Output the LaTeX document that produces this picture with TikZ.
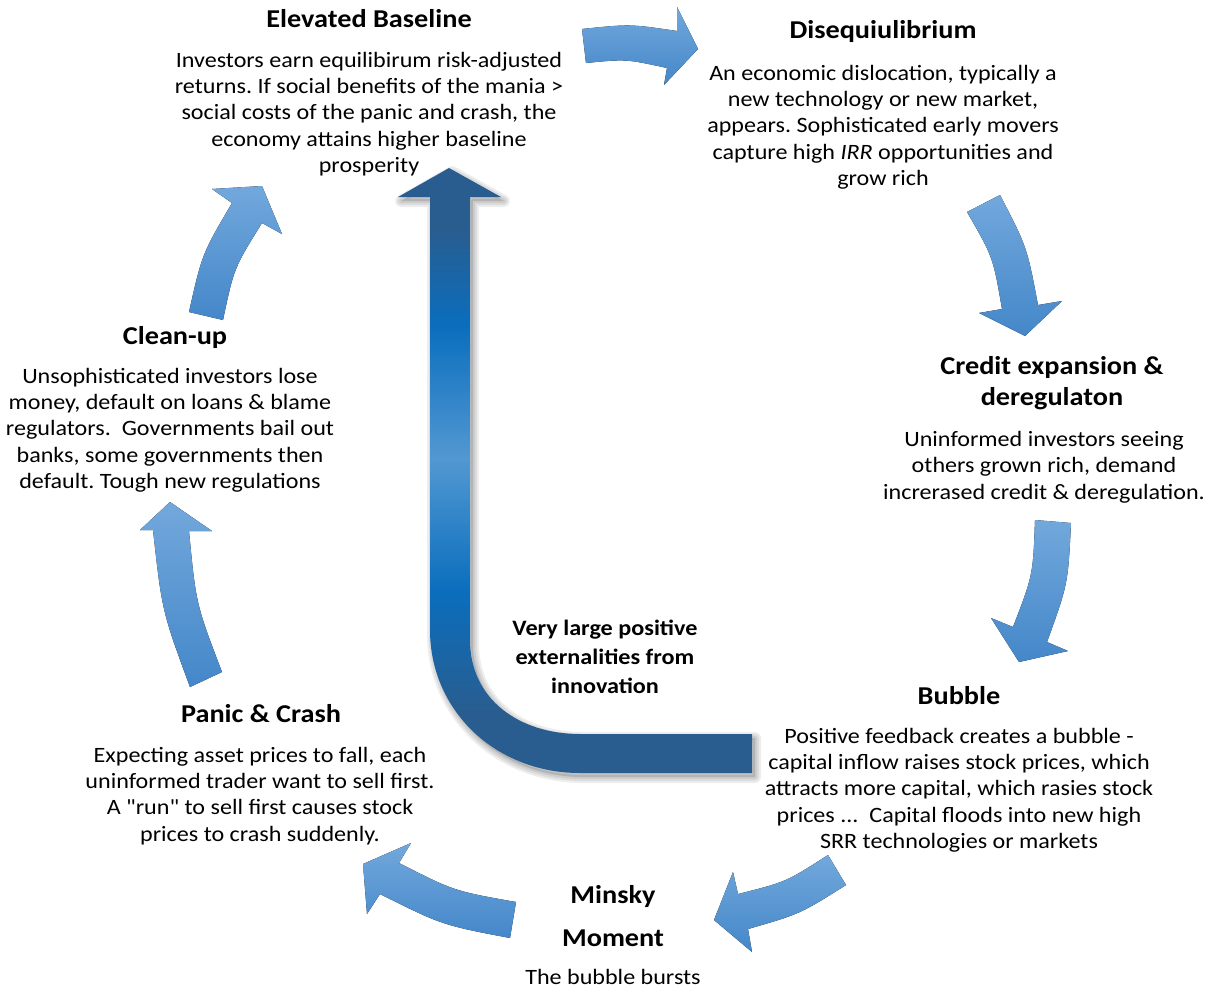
\documentclass[tikz,border=0pt]{standalone}
\usepackage{fontspec}
\setmainfont[FakeStretch=1.1]{Carlito}
\newfontfamily\plainquote[FakeStretch=1.1]{Carlito}
\definecolor{arrowtop}{HTML}{72A8DC}
\definecolor{arrowbot}{HTML}{4487C9}
\definecolor{innovdark}{HTML}{295D8F}
\definecolor{innovmid}{HTML}{0A6EBD}
\definecolor{innovlight}{HTML}{5298D2}
\pgfdeclareverticalshading{innovshade}{100bp}{color(0bp)=(innovdark); color(25bp)=(innovdark); color(30bp)=(innovdark); color(40bp)=(innovmid); color(51bp)=(innovlight); color(62bp)=(innovmid); color(70bp)=(innovdark); color(100bp)=(innovdark)}
\newcommand{\straightquote}{{\plainquote"}}
\tikzset{
  head/.style={font=\bfseries\fontsize{25.7}{31}\selectfont, align=center, inner sep=0pt},
  body/.style={font=\fontsize{21.9}{26.3}\selectfont, align=center, inner sep=0pt},
  cyclearrow/.style={top color=arrowtop, bottom color=arrowbot, draw=none},
  innovpath/.style={insert path={(449,168) -- (501,197) -- (470,197) -- (470,640)
      .. controls (470,700) and (520,734) .. (580,734) -- (752,734) -- (752,773) -- (580,773)
      .. controls (495,773) and (430,710) .. (430,630) -- (430,197) -- (398,197) -- cycle}}
}
\frenchspacing
\begin{document}
\begin{tikzpicture}[x=1pt, y=-1pt]
  \useasboundingbox (0,0) rectangle (1219,988);

  % big L arrow with soft shadow
  \foreach \w in {12,8,4} {
    \draw[line width=\w pt, black, opacity=0.07, line join=round, shift={(3,4)}, innovpath];
  }
  \fill[black, opacity=0.12, shift={(3,4)}, innovpath];
  \shade[shading=innovshade, innovpath];

  % cycle arrows
  \fill[cyclearrow] (582,29) .. controls (630,24) .. (677,31) -- (677,7) -- (698,49) -- (664,85)
    -- (667,68) .. controls (626,59) .. (586,63) -- cycle;
  \fill[cyclearrow] (967,212) -- (1000,195) .. controls (1027,247) .. (1038,305) -- (1062,301)
    -- (1025,336) -- (979,313) -- (1002,309) .. controls (993,257) .. cycle;
  \fill[cyclearrow] (1035,520) -- (1071,523) .. controls (1068,584) .. (1047,642) -- (1068,651)
    -- (1019,662) -- (991,618) -- (1013,627) .. controls (1033,575) .. cycle;
  \fill[cyclearrow] (828,855) .. controls (786,882) .. (738,894) -- (733,872) -- (714,920)
    -- (752,952) -- (748,929) .. controls (800,914) .. (846,885) -- cycle;
  \fill[cyclearrow] (516,902) .. controls (454,891) .. (399,863) -- (411,843) -- (363,864)
    -- (367,914) -- (380,894) .. controls (442,925) .. (510,938) -- cycle;
  \fill[cyclearrow] (190,687) -- (222,672) .. controls (196,604) .. (189,531) -- (212,531)
    -- (170,502) -- (140,530) -- (153,530) .. controls (162,611) .. cycle;
  \fill[cyclearrow] (189,312) .. controls (202,254) .. (232,203) -- (212,189) -- (262,186)
    -- (282,234) -- (262,223) .. controls (234,268) .. (223,320) -- cycle;

  % stages
  \node[head] (elevhead) at (369,19) {Elevated Baseline};
  \node[body] (elevtext) at (369,114) {Investors earn equilibirum risk-adjusted\\returns. If social benefits of the mania >\\social costs of the panic and crash, the\\economy attains higher baseline\\prosperity};

  \node[head] (diseqhead) at (883,32) {Disequiulibrium};
  \node[body] (diseqtext) at (883,127) {An economic dislocation, typically a\\new technology or new market,\\appears. Sophisticated early movers\\capture high \textit{IRR} opportunities and\\grow rich};

  \node[head] (credithead) at (1052,383) {Credit expansion \&\\deregulaton};
  \node[body] (credittext) at (1044,467) {Uninformed investors seeing\\others grown rich, demand\\increrased credit \& deregulation.};

  \node[head] (bubblehead) at (959,696) {Bubble};
  \node[body] (bubbletext) at (959,790) {Positive feedback creates a bubble -\\capital inflow raises stock prices, which\\attracts more capital, which rasies stock\\prices ...\ \ Capital floods into new high\\SRR technologies or markets};

  \node[head] (minskyhead) at (613,916) {Minsky\\[12pt]Moment};
  \node[body] (minskytext) at (613,977) {The bubble bursts};

  \node[head] (panichead) at (261,714) {Panic \& Crash};
  \node[body] (panictext) at (260,796) {Expecting asset prices to fall, each\\uninformed trader want to sell first.\\A \straightquote run\straightquote{} to sell first causes stock\\prices to crash suddenly.};

  \node[head] (cleanhead) at (175,337) {Clean-up};
  \node[body] (cleantext) at (170,430) {Unsophisticated investors lose\\money, default on loans \& blame\\regulators.\ \ Governments bail out\\banks, some governments then\\default. Tough new regulations};

  \node[head, font=\bfseries\fontsize{22}{29}\selectfont] (innovtext) at (605,657) {Very large positive\\externalities from\\innovation};
\end{tikzpicture}
\end{document}
